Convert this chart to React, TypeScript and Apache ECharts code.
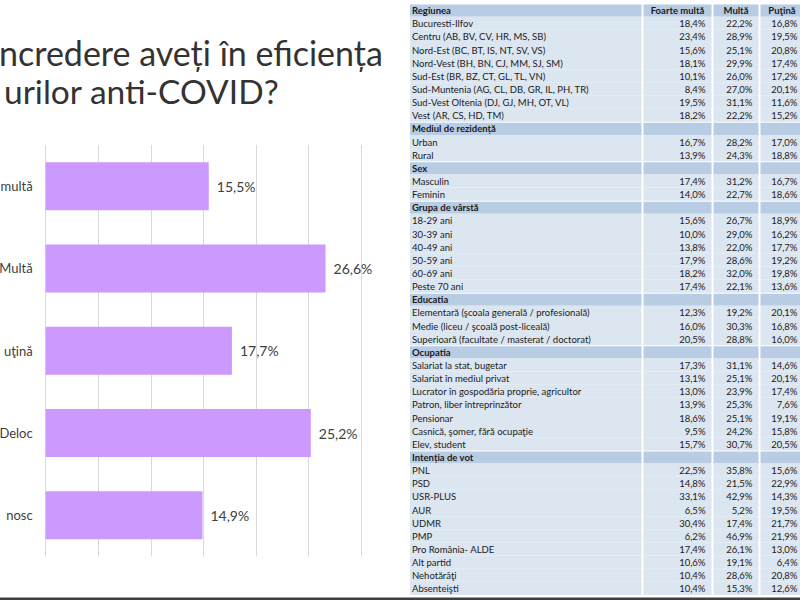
import React, { useEffect, useRef } from "react";
import * as echarts from "echarts";

// ---- Left chart data ----
const titleLines = ["ncredere aveți în eficiența", "urilor anti-COVID?"];
const answerLabels = ["multă", "Multă", "uţină", "Deloc", "nosc"];
const answerValues = [15.5, 26.6, 17.7, 25.2, 14.9];
const axisMax = 30;
const axisInterval = 5;

// ---- Right table data ----
const tableColumns = ["Foarte multă", "Multă", "Puţină"];
const sectionTitles = [
  "Regiunea",
  "Mediul de rezidență",
  "Sex",
  "Grupa de vârstă",
  "Educatia",
  "Ocupatia",
  "Intenția de vot",
];

const regiuneLabels = [
  "Bucuresti-Ilfov",
  "Centru (AB, BV, CV, HR, MS, SB)",
  "Nord-Est (BC, BT, IS, NT, SV, VS)",
  "Nord-Vest (BH, BN, CJ, MM, SJ, SM)",
  "Sud-Est (BR, BZ, CT, GL, TL, VN)",
  "Sud-Muntenia (AG, CL, DB, GR, IL, PH, TR)",
  "Sud-Vest Oltenia (DJ, GJ, MH, OT, VL)",
  "Vest (AR, CS, HD, TM)",
];
const regiuneValues = [
  [18.4, 22.2, 16.8],
  [23.4, 28.9, 19.5],
  [15.6, 25.1, 20.8],
  [18.1, 29.9, 17.4],
  [10.1, 26.0, 17.2],
  [8.4, 27.0, 20.1],
  [19.5, 31.1, 11.6],
  [18.2, 22.2, 15.2],
];

const mediuLabels = ["Urban", "Rural"];
const mediuValues = [
  [16.7, 28.2, 17.0],
  [13.9, 24.3, 18.8],
];

const sexLabels = ["Masculin", "Feminin"];
const sexValues = [
  [17.4, 31.2, 16.7],
  [14.0, 22.7, 18.6],
];

const varstaLabels = ["18-29 ani", "30-39 ani", "40-49 ani", "50-59 ani", "60-69 ani", "Peste 70 ani"];
const varstaValues = [
  [15.6, 26.7, 18.9],
  [10.0, 29.0, 16.2],
  [13.8, 22.0, 17.7],
  [17.9, 28.6, 19.2],
  [18.2, 32.0, 19.8],
  [17.4, 22.1, 13.6],
];

const educatieLabels = [
  "Elementară (şcoala generală / profesională)",
  "Medie (liceu / şcoală post-liceală)",
  "Superioară (facultate / masterat / doctorat)",
];
const educatieValues = [
  [12.3, 19.2, 20.1],
  [16.0, 30.3, 16.8],
  [20.5, 28.8, 16.0],
];

const ocupatieLabels = [
  "Salariat la stat, bugetar",
  "Salariat în mediul privat",
  "Lucrator în gospodăria proprie, agricultor",
  "Patron, liber întreprinzător",
  "Pensionar",
  "Casnică, şomer, fără ocupaţie",
  "Elev, student",
];
const ocupatieValues = [
  [17.3, 31.1, 14.6],
  [13.1, 25.1, 20.1],
  [13.0, 23.9, 17.4],
  [13.9, 25.3, 7.6],
  [18.6, 25.1, 19.1],
  [9.5, 24.2, 15.8],
  [15.7, 30.7, 20.5],
];

const votLabels = [
  "PNL",
  "PSD",
  "USR-PLUS",
  "AUR",
  "UDMR",
  "PMP",
  "Pro România- ALDE",
  "Alt partid",
  "Nehotărâţi",
  "Absenteişti",
];
const votValues = [
  [22.5, 35.8, 15.6],
  [14.8, 21.5, 22.9],
  [33.1, 42.9, 14.3],
  [6.5, 5.2, 19.5],
  [30.4, 17.4, 21.7],
  [6.2, 46.9, 21.9],
  [17.4, 26.1, 13.0],
  [10.6, 19.1, 6.4],
  [10.4, 28.6, 20.8],
  [10.4, 15.3, 12.6],
];

const sectionLabels = [regiuneLabels, mediuLabels, sexLabels, varstaLabels, educatieLabels, ocupatieLabels, votLabels];
const sectionValues = [regiuneValues, mediuValues, sexValues, varstaValues, educatieValues, ocupatieValues, votValues];

type Row = { label: string; kind: "header" | "section" | "data"; values?: number[] };

const rows: Row[] = [];
sectionTitles.forEach((t, s) => {
  rows.push({ label: t, kind: s === 0 ? "header" : "section" });
  sectionLabels[s].forEach((l, j) => rows.push({ label: l, kind: "data", values: sectionValues[s][j] }));
});

const fmt = (v: number) => v.toFixed(1).replace(".", ",") + "%";

// layout (pixels inside table grid)
const colWidths = [231.5, 68, 45, 43];
const colGap = 2;

export default function App() {
  const ref = useRef<HTMLDivElement>(null);

  useEffect(() => {
    if (!ref.current) return;
    const chart = echarts.init(ref.current, undefined, { renderer: "svg" });
    const font = "Lato";
    const tableFont = 9.5;

    const renderRow = (params: any, api: any) => {
      const idx = api.value(1) as number;
      const row = rows[idx];
      const c = api.coord([0, idx]);
      const bandH = api.size([0, 1])[1];
      const cs = params.coordSys;
      const isHead = row.kind !== "data";
      const top = c[1] - bandH / 2 + (isHead ? 1 : 0);
      const h = bandH - (isHead ? 1 : 0);
      const fill = isHead ? "#B8CCE4" : "#DCE6F1";
      const children: any[] = [];
      let x = cs.x;
      colWidths.forEach((w, ci) => {
        children.push({
          type: "rect",
          shape: { x, y: top, width: w, height: h },
          style: { fill },
        });
        let text = "";
        let align = "right";
        let tx = x + w - 6;
        if (ci === 0) {
          text = row.label;
          align = "left";
          tx = x + 2;
        } else if (row.kind === "header") {
          text = tableColumns[ci - 1];
          align = "center";
          tx = x + w / 2;
        } else if (row.kind === "data" && row.values) {
          text = fmt(row.values[ci - 1]);
        }
        if (text) {
          children.push({
            type: "text",
            style: {
              text,
              x: tx,
              y: c[1] + 0.5,
              align,
              verticalAlign: "middle",
              fill: "#1a1a1a",
              fontSize: tableFont,
              fontFamily: font,
              fontWeight: isHead ? "bold" : "normal",
            },
          });
        }
        x += w + colGap;
      });
      return { type: "group", children };
    };

    chart.setOption({
      animation: false,
      backgroundColor: "#ffffff",
      grid: [
        { left: 45.7, top: 145, width: 315.6, height: 411.5, containLabel: false, outerBoundsMode: "none" },
        { left: 410, top: 3.5, width: 393, height: 591.5, containLabel: false, outerBoundsMode: "none" },
      ],
      xAxis: [
        {
          type: "value",
          gridIndex: 0,
          min: 0,
          max: axisMax,
          interval: axisInterval,
          axisLabel: { show: false },
          axisLine: { show: false },
          axisTick: { show: false },
          splitLine: { show: true, lineStyle: { color: "#D9D9D9", width: 1 } },
        },
        { type: "value", gridIndex: 1, min: 0, max: 1, show: false },
      ],
      yAxis: [
        {
          type: "category",
          gridIndex: 0,
          data: answerLabels,
          inverse: true,
          axisLine: { show: false },
          axisTick: { show: false },
          axisLabel: { margin: 13, fontSize: 13, color: "#404040", fontFamily: font },
        },
        {
          type: "category",
          gridIndex: 1,
          data: rows.map((_, i) => String(i)),
          inverse: true,
          show: false,
        },
      ],
      series: [
        {
          type: "bar",
          xAxisIndex: 0,
          yAxisIndex: 0,
          data: answerValues,
          barWidth: 48,
          itemStyle: { color: "#CC99FF" },
          label: {
            show: true,
            position: "right",
            distance: 8,
            fontSize: 14,
            fontFamily: font,
            color: "#404040",
            formatter: (p: any) => fmt(p.value),
          },
        },
        {
          type: "custom",
          xAxisIndex: 1,
          yAxisIndex: 1,
          clip: false,
          silent: true,
          data: rows.map((_, i) => [0, i]),
          encode: { x: 0, y: 1 },
          renderItem: renderRow,
        },
      ],
      graphic: [
        {
          type: "text",
          left: -1,
          top: 35,
          style: { text: titleLines[0], fontSize: 34, fontFamily: font, fill: "#333333" },
        },
        {
          type: "text",
          left: 4,
          top: 74,
          style: { text: titleLines[1], fontSize: 33.5, fontFamily: font, fill: "#333333" },
        },
        {
          type: "rect",
          left: 0,
          top: 597.5,
          shape: { width: 800, height: 2.5 },
          style: { fill: "#3F3F3F" },
        },
      ],
    });

    return () => chart.dispose();
  }, []);

  return (
    <div
      ref={ref}
      style={{ position: "fixed", left: 0, top: 0, width: 800, height: 600, background: "#fff" }}
    />
  );
}
